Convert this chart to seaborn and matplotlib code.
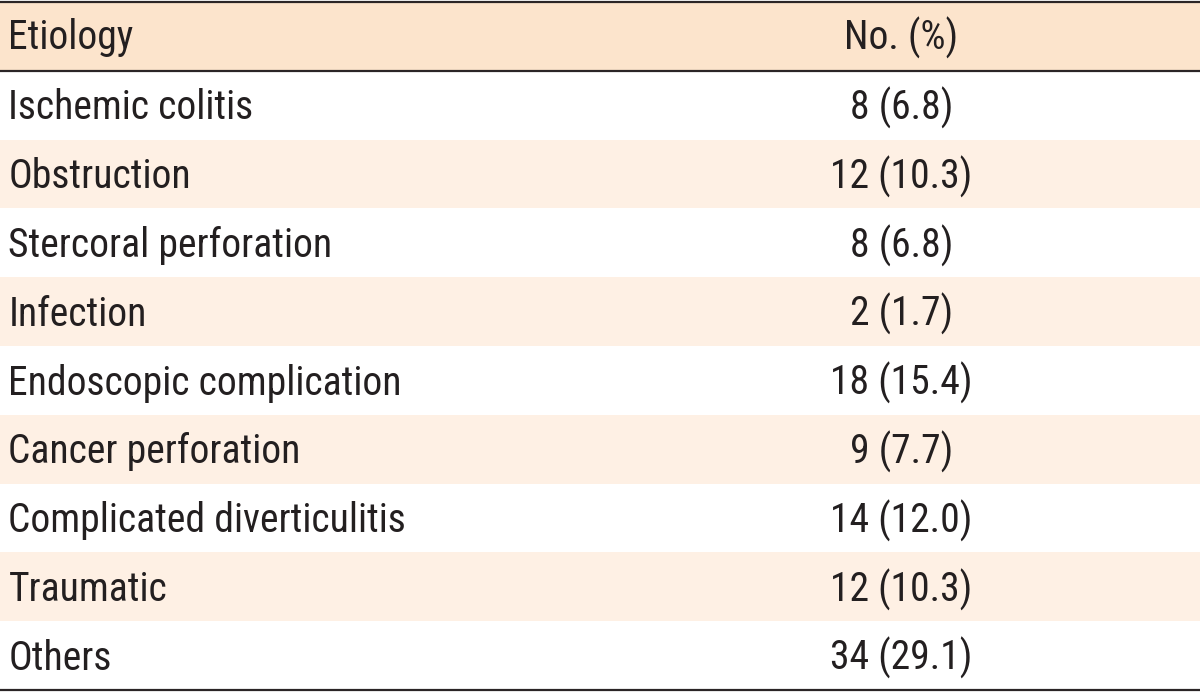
import numpy as np
import pandas as pd
import matplotlib
matplotlib.use("Agg")
import matplotlib.pyplot as plt
from matplotlib import font_manager
from matplotlib.colors import ListedColormap
import seaborn as sns

header = ["Etiology", "No. (%)"]
etiology = ["Ischemic colitis", "Obstruction", "Stercoral perforation", "Infection",
            "Endoscopic complication", "Cancer perforation", "Complicated diverticulitis",
            "Traumatic", "Others"]
counts = [8, 12, 8, 2, 18, 9, 14, 12, 34]
percents = [6.8, 10.3, 6.8, 1.7, 15.4, 7.7, 12.0, 10.3, 29.1]

sns.set_theme(style="white")

# pick the narrowest installed sans family available
names = {f.name for f in font_manager.fontManager.ttflist}
preferred = ["Liberation Sans Narrow", "Roboto Condensed", "DejaVu Sans Condensed",
             "Open Sans Condensed", "Noto Sans Condensed"]
family = None
stretch = "normal"
for p in preferred:
    if p in names:
        family = p
        break
if family is None:
    cond = [f for f in font_manager.fontManager.ttflist
            if f.name in ("DejaVu Sans", "Noto Sans", "Open Sans", "Roboto")
            and str(f.stretch) in ("condensed", "semi-condensed", "extra-condensed", "575", "500", "600", "625", "750")
            and f.style == "normal"]
    if cond:
        family = cond[0].name
        stretch = cond[0].stretch
if family is None:
    family = "Roboto" if "Roboto" in names else "Liberation Sans"
    fs = 26
else:
    fs = 28.5
plt.rcParams['font.family'] = [family, 'DejaVu Sans']

W, H = 1200, 693
fig = plt.figure(figsize=(W / 100, H / 100), dpi=100)
top_px, bot_px = 2, 690
ax = fig.add_axes([0, (H - bot_px) / H, 1, (bot_px - top_px) / H])

# 0 = white, 1 = stripe, 2 = header
codes = [2] + [i % 2 for i in range(len(etiology))]
grid = pd.DataFrame({"c": codes})
cmap = ListedColormap(["#FFFFFF", "#FEF0E4", "#FCE4CC"])
sns.heatmap(grid, ax=ax, cmap=cmap, vmin=-0.5, vmax=2.5, cbar=False,
            xticklabels=False, yticklabels=False)
ax.set_xlim(0, 1)

txt_color = "#231F20"
x_left = 0.007
x_center = 0.751
kw = dict(fontsize=fs, color=txt_color, va="center", fontstretch=stretch)
ax.text(x_left, 0.52, header[0], ha="left", **kw)
ax.text(x_center, 0.52, header[1], ha="center", **kw)
for i, (name, n, p) in enumerate(zip(etiology, counts, percents)):
    y = i + 1.54
    ax.text(x_left, y, name, ha="left", **kw)
    ax.text(x_center, y, f"{n} ({p:.1f})", ha="center", **kw)

for yl in [0, 1, len(codes)]:
    ax.axhline(yl, color="#2B2526", lw=1.6, clip_on=False)

for s in ax.spines.values():
    s.set_visible(False)

fig.savefig("out.png", dpi=100)
